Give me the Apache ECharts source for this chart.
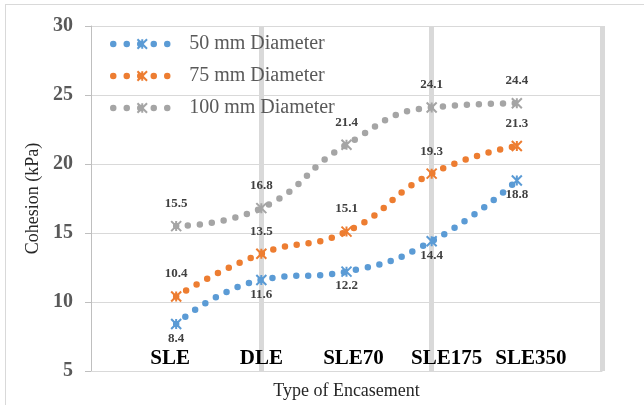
<!DOCTYPE html>
<html>
<head>
<meta charset="utf-8">
<script src="https://cdn.jsdelivr.net/npm/echarts@6/dist/echarts.min.js"></script>
<style>
  html, body { margin: 0; padding: 0; background: #fff; overflow: hidden; }
  #frame { position: absolute; left: 5px; top: 4px; width: 700px; height: 500px; border: 1px solid #d9d9d9; }
  #chart { position: absolute; left: 0; top: 0; width: 644px; height: 405px; }
</style>
</head>
<body>
<div id="frame"></div>
<div id="chart"></div>
<script>
// Encasement types along the horizontal axis
const categories = ['SLE', 'DLE', 'SLE70', 'SLE175', 'SLE350'];

// Cohesion (kPa) for each column diameter
const cohesion50 = [8.4, 11.6, 12.2, 14.4, 18.8];
const cohesion75 = [10.4, 13.5, 15.1, 19.3, 21.3];
const cohesion100 = [15.5, 16.8, 21.4, 24.1, 24.4];

const seriesNames = ['50 mm Diameter', '75 mm Diameter', '100 mm Diameter'];
const seriesColors = ['#5B9BD5', '#ED7D31', '#A5A5A5'];

// Value-axis ticks used on the left axis
const yTicks = { min: 5, max: 30, step: 5 };

const serif = '"Liberation Serif", "Times New Roman", serif';
const starMarker = 'path://M0,0L10,10M10,0L0,10M5,0L5,10';

// Categories sit at x = 1..5 on a 0..6 scale
const toPoints = vals => vals.map((v, i) => [i + 1, v]);

// small horizontal nudges for the category captions
const captionShift = [-6, 0, 7, 15, 14];
const rich = {};
captionShift.forEach((s, i) => {
  rich['c' + i] = {
    fontFamily: serif, fontWeight: 'bold', fontSize: 21, color: '#000',
    padding: s >= 0 ? [0, 0, 0, 2 * s] : [0, -2 * s, 0, 0]
  };
});

function makeSeries(name, vals, color, labelPos, labelDist) {
  return {
    name: name,
    type: 'line',
    xAxisIndex: 0,
    data: toPoints(vals),
    smooth: 0.5,
    symbol: starMarker,
    symbolSize: 10,
    color: color,
    lineStyle: { color: color, width: 6.5, type: [0, 12], cap: 'round' },
    itemStyle: { color: color, borderColor: color, borderWidth: 2 },
    label: {
      show: true,
      position: labelPos,
      distance: labelDist,
      fontFamily: serif,
      fontWeight: 'bold',
      fontSize: 13,
      color: '#404040',
      formatter: p => p.value[1].toFixed(1)
    },
    emphasis: { disabled: true },
    z: 3
  };
}

const chart = echarts.init(document.getElementById('chart'), null, { renderer: 'canvas' });

chart.setOption({
  animation: false,
  grid: { left: 91, right: 42, top: 26, bottom: 34, containLabel: false },
  legend: {
    orient: 'vertical',
    left: 105,
    top: 29,
    itemWidth: 58,
    itemHeight: 12,
    itemGap: 12,
    lineStyle: { width: 6.5, type: [0, 13.5], cap: 'round' },
    textStyle: {
      fontFamily: serif, fontSize: 20, color: '#595959', lineHeight: 20,
      padding: [0, 0, 0, 13]
    },
    data: seriesNames
  },
  xAxis: [
    {
      type: 'value',
      min: 0,
      max: 6,
      interval: 1,
      name: 'Type of Encasement',
      nameLocation: 'middle',
      nameGap: 11,
      nameTextStyle: { fontFamily: serif, fontSize: 18, color: '#262626' },
      axisLine: { show: true, lineStyle: { color: '#d9d9d9', width: 1 } },
      axisTick: { show: false },
      splitLine: { show: false },
      axisLabel: {
        inside: true,
        margin: 2,
        formatter: v => {
          const i = Math.round(v) - 1;
          return (i >= 0 && i < categories.length) ? '{c' + i + '|' + categories[i] + '}' : '';
        },
        rich: rich
      }
    },
    {
      type: 'value',
      min: 0,
      max: 6,
      interval: 2,
      position: 'bottom',
      axisLine: { show: false },
      axisTick: { show: false },
      axisLabel: { show: false },
      splitLine: { show: true, showMinLine: false, lineStyle: { color: '#d9d9d9', width: 5 } }
    }
  ],
  yAxis: {
    type: 'value',
    min: yTicks.min,
    max: yTicks.max,
    interval: yTicks.step,
    name: 'Cohesion (kPa)',
    nameLocation: 'middle',
    nameGap: 49,
    nameTextStyle: { fontFamily: serif, fontSize: 18, color: '#262626' },
    axisLine: { show: true, lineStyle: { color: '#bfbfbf', width: 1 } },
    axisTick: { show: true, length: 6, lineStyle: { color: '#bfbfbf' } },
    axisLabel: { fontFamily: serif, fontWeight: 'bold', fontSize: 20, color: '#595959', margin: 18 },
    splitLine: { show: true, lineStyle: { color: '#d9d9d9', width: 1 } }
  },
  series: [
    makeSeries(seriesNames[0], cohesion50, seriesColors[0], 'bottom', 2),
    makeSeries(seriesNames[1], cohesion75, seriesColors[1], 'top', 10),
    makeSeries(seriesNames[2], cohesion100, seriesColors[2], 'top', 10)
  ]
});
</script>
</body>
</html>
